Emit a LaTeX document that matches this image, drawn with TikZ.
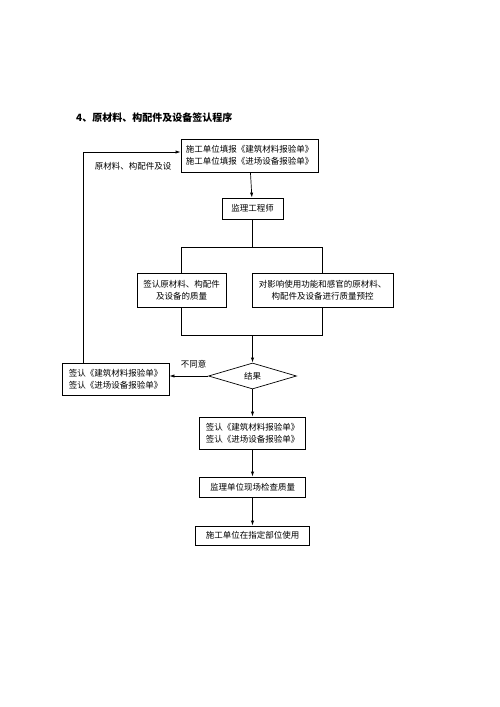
\documentclass[tikz,border=0pt]{standalone}
\usepackage{fontspec}
\setmainfont{Noto Sans CJK SC}
\usetikzlibrary{shapes.geometric,arrows.meta}
\begin{document}
\begin{tikzpicture}[x=1pt,y=-1pt,
  every node/.style={inner sep=0pt},
  boxnode/.style={draw, line width=0.7pt, align=center, font=\fontsize{8.5}{12}\selectfont},
  lbl/.style={font=\fontsize{8.5}{12}\selectfont},
  conn/.style={line width=0.7pt},
  arr/.style={line width=0.7pt, -{Latex[length=5pt,width=3.2pt]}}]
\useasboundingbox (0,0) rectangle (500,707);
\fill[white] (0,0) rectangle (500,707);

\node[anchor=west, font=\fontsize{10}{12}\selectfont\bfseries] (title) at (76,118) {4、原材料、构配件及设备签认程序};

\node[boxnode, minimum width=137, minimum height=33] (b1) at (249.5,155.5) {施工单位填报《建筑材料报验单》\\施工单位填报《进场设备报验单》};
\node[boxnode, minimum width=61, minimum height=21] (b2) at (252.5,208.5) {监理工程师};
\node[boxnode, minimum width=89, minimum height=34] (bl) at (181.5,290) {签认原材料、构配件\\及设备的质量};
\node[boxnode, minimum width=141, minimum height=34] (br) at (322.5,290) {对影响使用功能和感官的原材料、\\构配件及设备进行质量预控};
\node[draw, line width=0.7pt, shape=diamond, aspect=3.4, minimum width=88, minimum height=26, font=\fontsize{8.5}{12}\selectfont] (dm) at (252.5,376) {结果};
\node[boxnode, minimum width=107, minimum height=32] (bs) at (115.5,379) {签认《建筑材料报验单》\\签认《进场设备报验单》};
\node[boxnode, minimum width=106, minimum height=32] (b3) at (252.5,433) {签认《建筑材料报验单》\\签认《进场设备报验单》};
\node[boxnode, minimum width=106, minimum height=20] (b4) at (252.5,487) {监理单位现场检查质量};
\node[boxnode, minimum width=114, minimum height=19] (b5) at (252.5,535.5) {施工单位在指定部位使用};

\coordinate (s) at (252.5,247);
\coordinate (sl) at (181.5,247);
\coordinate (sr) at (322.5,247);
\coordinate (m) at (252.5,335);
\coordinate (ml) at (181.5,335);
\coordinate (mr) at (322.5,335);
\coordinate (fb) at (83,152);

\draw[arr] (b1) -- (b2);
\draw[conn] (b2) -- (s);
\draw[conn] (sl) -- (sr);
\draw[conn] (sl) -- (bl.north);
\draw[conn] (sr) -- (br.north);
\draw[conn] (bl.south) -- (ml) -- (mr) -- (br.south);
\draw[arr] (m) -- (dm.north);
\draw[arr] (dm.west) -- (dm.west -| bs.east);
\draw[arr] (dm.south) -- (b3.north);
\draw[arr] (b3) -- (b4);
\draw[arr] (b4) -- (b5);
\draw[arr] (bs.north -| fb) -- (fb) -- (fb -| b1.west);

\node[lbl] (nd) at (193.5,364) {不同意};
\node[lbl] (fl) at (133,166) {原材料、构配件及设};
\end{tikzpicture}
\end{document}
